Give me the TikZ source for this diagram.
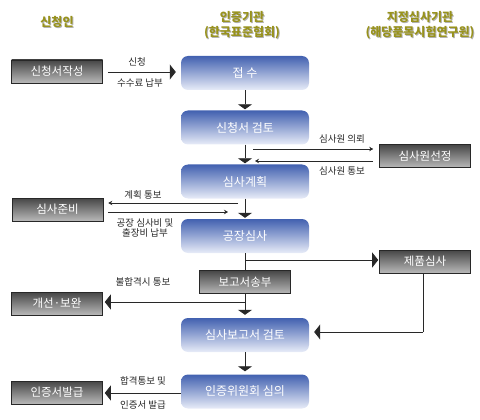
\documentclass[tikz,border=0pt]{standalone}
\usepackage{fontspec}
\setmainfont{Noto Sans CJK KR}
\usetikzlibrary{arrows.meta,calc}
\definecolor{hdr}{RGB}{152,146,28}
\definecolor{btop}{RGB}{66,97,176}
\definecolor{bbot}{RGB}{232,236,248}
\definecolor{gtop}{RGB}{70,70,70}
\definecolor{gbot}{RGB}{185,185,185}
\definecolor{ln}{RGB}{40,40,40}
\tikzset{
  bluebox/.style={rounded corners=7pt, top color=btop, bottom color=bbot, draw=none,
    minimum width=128pt, minimum height=34pt, text=white, font=\fontsize{12}{14}\selectfont, inner sep=0pt},
  graybox/.style={draw=ln, line width=0.6pt, top color=gtop, bottom color=gbot,
    minimum width=91pt, minimum height=23pt, text=white, font=\fontsize{11.5}{13}\selectfont, inner sep=0pt},
  lbl/.style={font=\fontsize{9.5}{11}\selectfont, text=black!85, inner sep=0pt, align=center},
  hdrtxt/.style={font=\bfseries\fontsize{12}{15}\selectfont, text=hdr, align=center, inner sep=0pt},
  hdrsh/.style={font=\bfseries\fontsize{12}{15}\selectfont, text=black!30, align=center, inner sep=0pt},
  flow/.style={draw=ln, line width=0.8pt, -{Triangle[width=14pt,length=5pt]}},
  side/.style={draw=ln, line width=0.8pt, -{Triangle[width=15pt,length=6pt]}},
  thin/.style={draw=ln, line width=0.7pt, -{Stealth[length=4pt,width=4.5pt]}},
  plain/.style={draw=ln, line width=0.8pt},
}
\begin{document}
\begin{tikzpicture}[x=1pt,y=-1pt]
\useasboundingbox (0,0) rectangle (480,420);
% headers
\node[hdrsh] at (58,23) {신청인};
\node[hdrtxt] (h1) at (57,22) {신청인};
\node[hdrsh] at (243,26.5) {인증기관\\(한국표준협회)};
\node[hdrtxt] (h2) at (242,25.5) {인증기관\\(한국표준협회)};
\node[hdrsh] at (421,26.5) {지정심사기관\\(해당품목시험연구원)};
\node[hdrtxt] (h3) at (420,25.5) {지정심사기관\\(해당품목시험연구원)};
% blue boxes
\node[bluebox] (jj) at (245,73) {접 수};
\node[bluebox] (sg) at (245,127.5) {신청서 검토};
\node[bluebox] (sp) at (245,181.5) {심사계획};
\node[bluebox] (gs) at (245,236) {공장심사};
\node[bluebox] (br) at (245,335) {심사보고서 검토};
\node[bluebox] (iw) at (245,391.5) {인증위원회 심의};
% gray boxes
\node[graybox] (sj) at (57,71.5) {신청서작성};
\node[graybox] (jb) at (57.5,209.5) {심사준비};
\node[graybox] (gb) at (57,303.5) {개선·보완};
\node[graybox] (ib) at (57,392.5) {인증서발급};
\node[graybox] (ss) at (425,156) {심사원선정};
\node[graybox] (jp) at (425,261.5) {제품심사};
\node[graybox] (bs) at (245,282) {보고서송부};
% main flow
\draw[side, shorten <=5pt, shorten >=5pt] (sj.east |- 0,72) -- (jj.west |- 0,72);
\draw[flow, shorten >=1pt] (jj.south) -- (sg.north);
\draw[flow, shorten >=1pt] (sg.south) -- (sp.north);
\draw[flow, shorten >=1pt] (sp.south) -- (gs.north);
\draw[plain] (gs.south) -- (bs.north);
\draw[flow, shorten >=3pt] (bs.south) -- (br.north);
\draw[flow, shorten >=3pt] (br.south) -- (iw.north);
% examiner request
\coordinate (r1) at (253,149);
\coordinate (r2) at (255,161);
\draw[thin, shorten >=6pt] (r1) -- (r1 -| ss.west);
\draw[thin, shorten <=6pt] (r2 -| ss.west) -- (r2);
\node[lbl] at (342,139) {심사원 의뢰};
\node[lbl] at (342,171) {심사원 통보};
% plan notice
\coordinate (p1) at (238,203);
\coordinate (p2) at (228,212);
\draw[thin, shorten >=5pt] (p1) -- (p1 -| jb.east);
\draw[thin, shorten <=5pt] (p2 -| jb.east) -- (p2);
\node[lbl] at (143,195) {계획 통보};
\node[lbl, font=\fontsize{9.5}{10}\selectfont] at (145,228) {공장 심사비 및\\출장비 납부};
% product test
\coordinate (b1) at (245,260);
\draw[side, shorten >=1pt] (b1) -- (b1 -| jp.west);
\coordinate (b2) at (423,332);
\draw[plain] (jp.south -| b2) -- (b2);
\draw[side, shorten >=5pt] (b2) -- (b2 -| br.east);
% fail notice
\coordinate (f1) at (245,302);
\draw[side, shorten >=2pt] (f1) -- (f1 -| gb.east);
\node[lbl] at (143,282) {불합격시 통보};
% certificate
\draw[side, shorten >=2pt] (iw.west |- 0,393) -- (ib.east |- 0,393);
\node[lbl] at (143,381) {합격통보 및};
\node[lbl] at (143,405) {인증서 발급};
\node[lbl] at (137,62) {신청};
\node[lbl] at (140,83) {수수료 납부};
\end{tikzpicture}
\end{document}
